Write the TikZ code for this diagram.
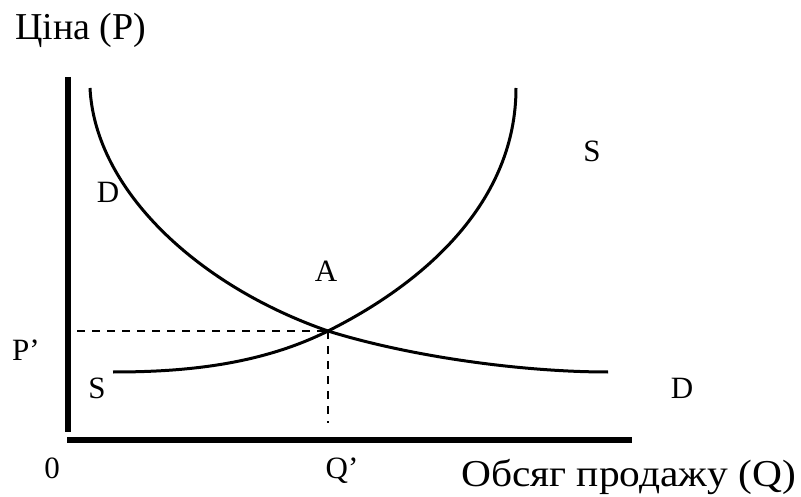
\documentclass[tikz,border=0pt]{standalone}
\usepackage{fontspec}
\setmainfont{Liberation Serif}
\begin{document}
\begin{tikzpicture}[x=1pt,y=-1pt,line cap=butt,line join=round,
  axis/.style={line width=6pt},
  curve/.style={line width=3pt},
  guide/.style={line width=1.4pt,dash pattern=on 8pt off 7pt},
  lbl/.style={inner sep=0pt,anchor=base,font=\fontsize{31}{33}\selectfont},
  title/.style={inner sep=0pt,anchor=base west,font=\fontsize{38}{40}\selectfont}]

\useasboundingbox (0,0) rectangle (801,497);

% axes
\coordinate (Ytop) at (68,77);
\coordinate (Ybot) at (68,432);
\coordinate (O) at (67,440);
\coordinate (Xend) at (632,440);

% equilibrium
\coordinate (A) at (328,331);
\coordinate (Pp) at (77,331);
\coordinate (Qp) at (328,423);

% curve ends
\coordinate (Dtop) at (90,88);
\coordinate (Dend) at (608,372);
\coordinate (Sbeg) at (113,372);
\coordinate (Stop) at (516,88);

\draw[axis] (Ytop) -- (Ybot);
\draw[axis] (O) -- (Xend);

% demand
\draw[curve] (Dtop) .. controls (95,190) and (198,286) .. (A)
  .. controls (408,356) and (520,372) .. (Dend);

% supply
\draw[curve] (Sbeg) .. controls (180,372) and (258,366) .. (A)
  .. controls (428,281) and (516,200) .. (Stop);

\draw[guide] (Pp) -- (A);
\draw[guide] (A) -- (Qp);

\node[title] (price) at (15,40) {Ціна (P)};
\node[title] (volume) at (461,486) {\scalebox{1.09}[1]{Обсяг продажу (Q)}};
\node[lbl] (zero) at (52,478) {0};
\node[lbl] (qeq) at (342,478) {Q’};
\node[lbl] (peq) at (26,360) {P’};
\node[lbl] (ptA) at (326,282) {A};
\node[lbl] (dtop) at (108,203) {D};
\node[lbl] (stop) at (592,162) {S};
\node[lbl] (sbot) at (97,398) {S};
\node[lbl] (dbot) at (682,398) {D};
\end{tikzpicture}
\end{document}
